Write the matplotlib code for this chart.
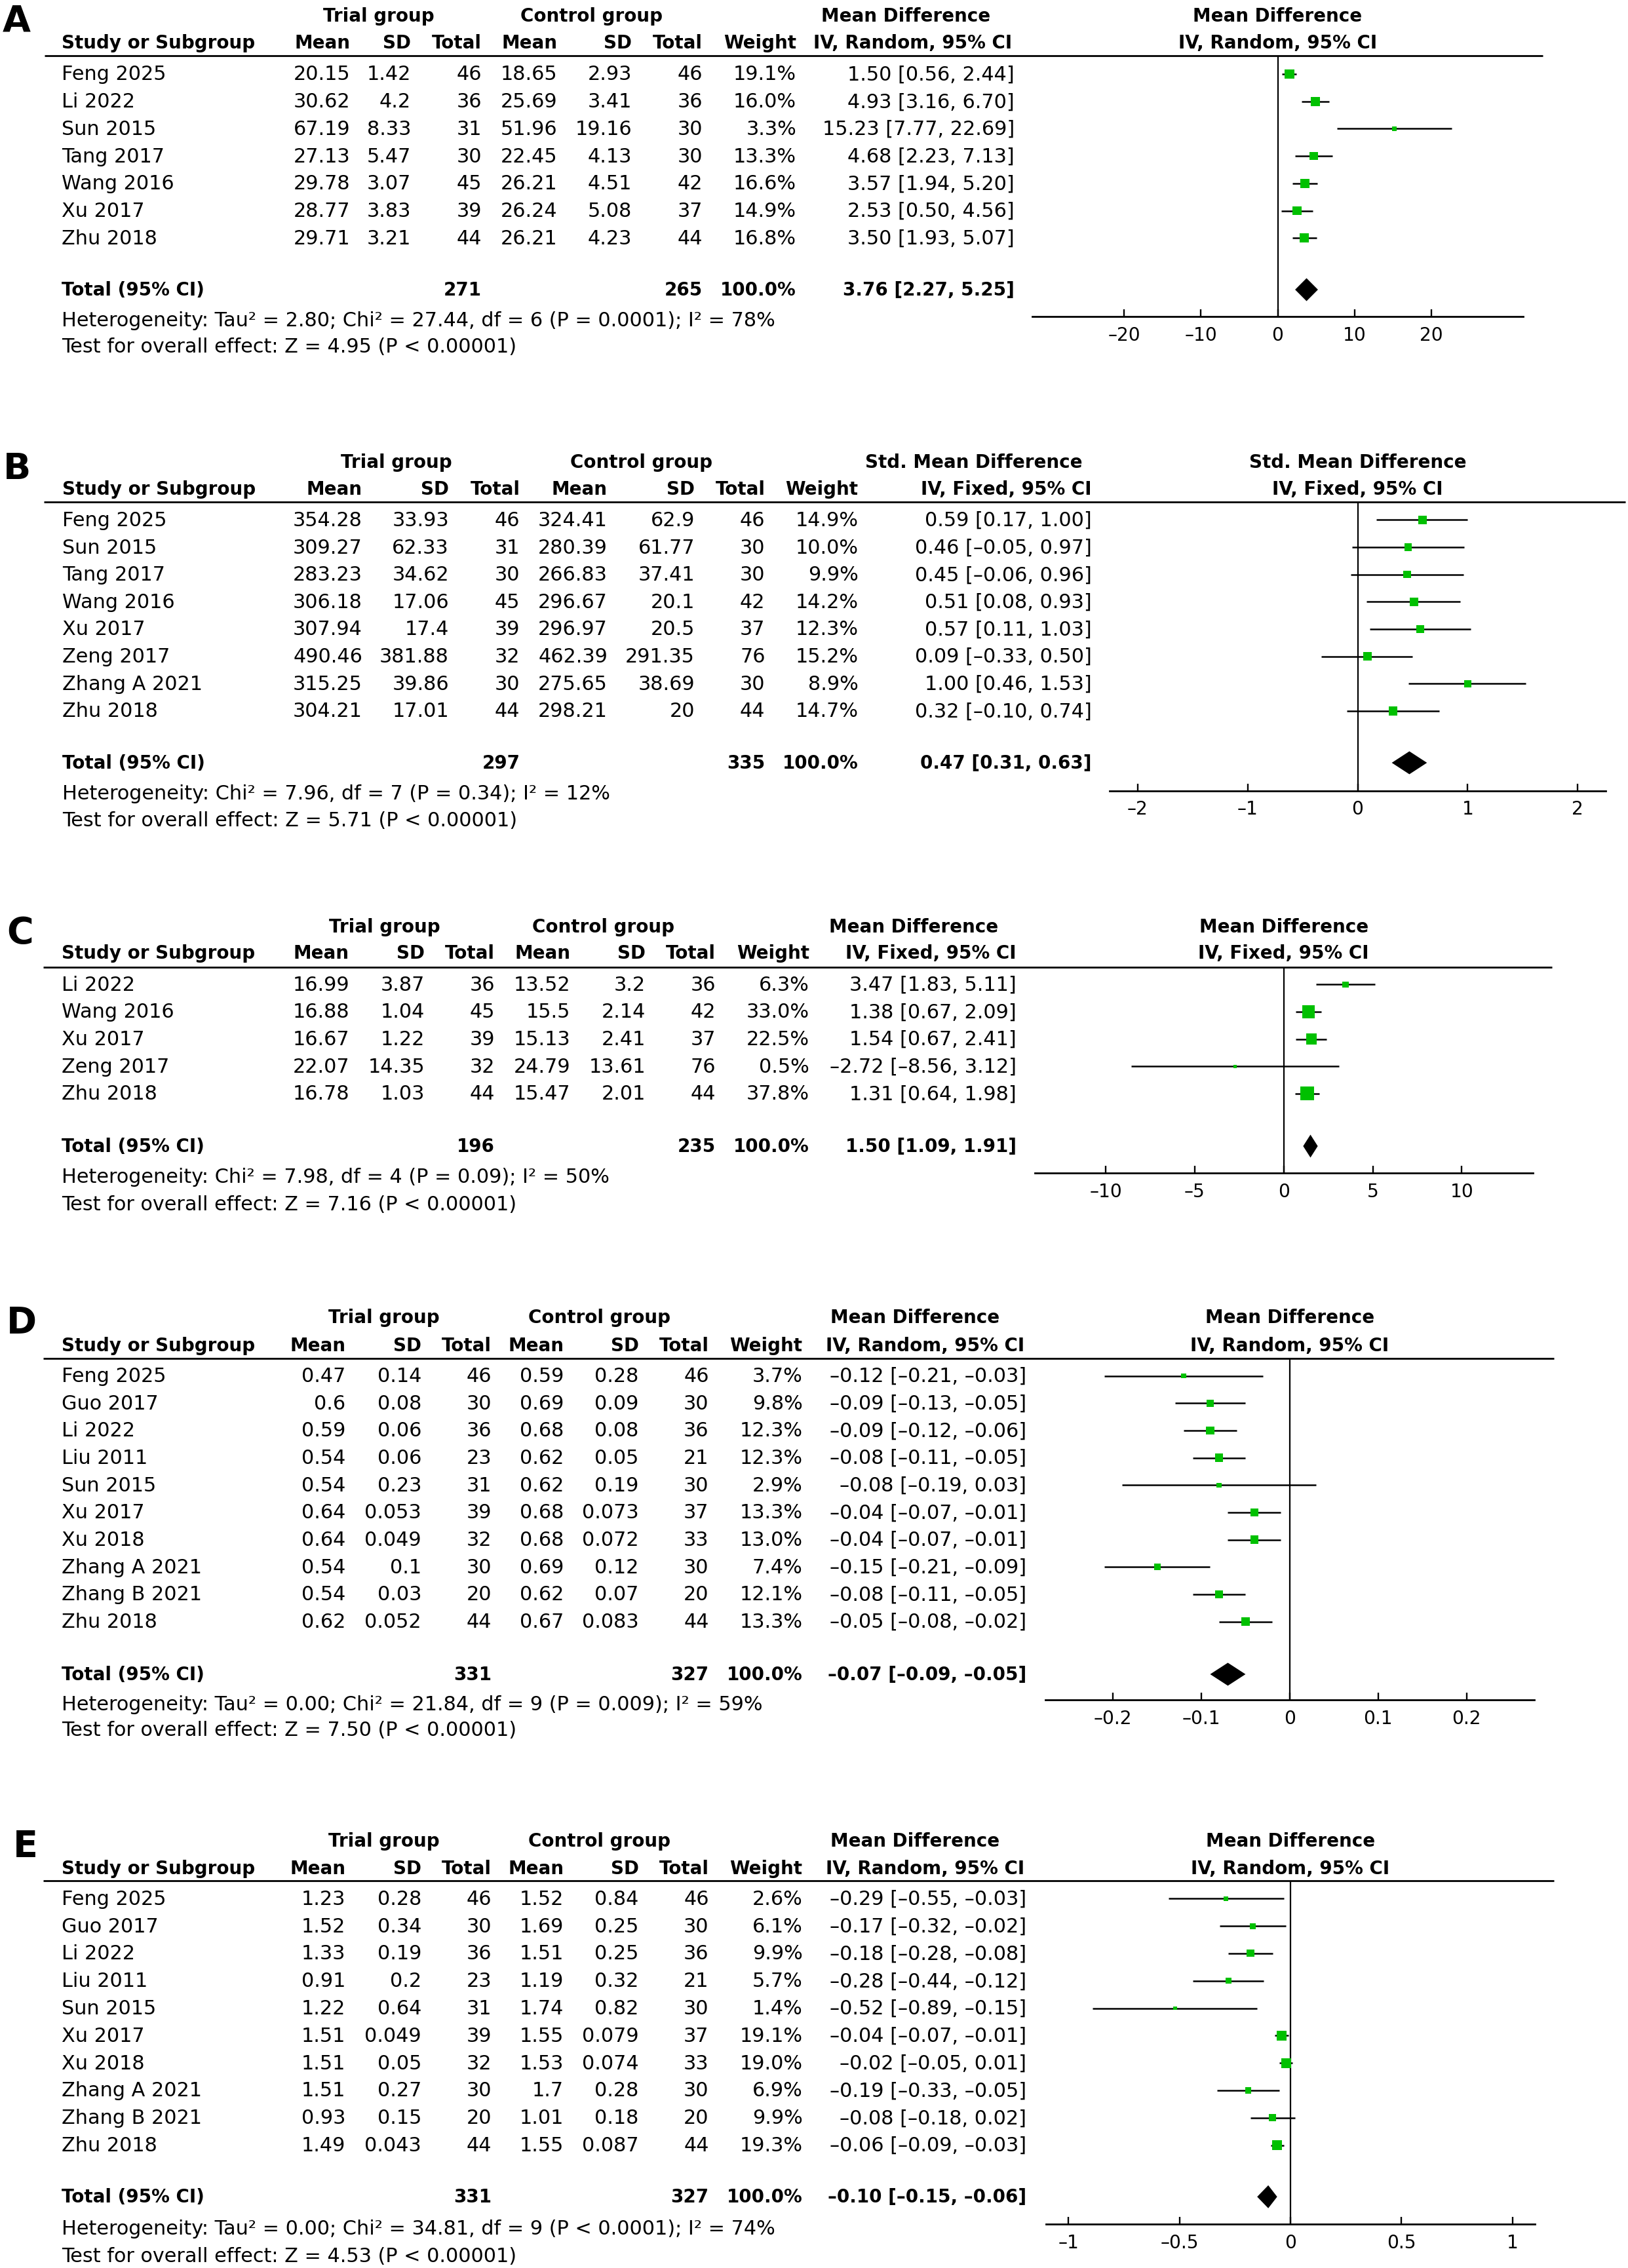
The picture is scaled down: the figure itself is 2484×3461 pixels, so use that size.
import matplotlib
matplotlib.use("Agg")
import matplotlib.pyplot as plt
import matplotlib.transforms as mtransforms
from matplotlib.ticker import FixedLocator, FuncFormatter

# ---------------------------------------------------------------- data
# Panel A
A_studies = ["Feng 2025", "Li 2022", "Sun 2015", "Tang 2017", "Wang 2016", "Xu 2017", "Zhu 2018"]
A_t_mean = [20.15, 30.62, 67.19, 27.13, 29.78, 28.77, 29.71]
A_t_sd = [1.42, 4.2, 8.33, 5.47, 3.07, 3.83, 3.21]
A_t_n = [46, 36, 31, 30, 45, 39, 44]
A_c_mean = [18.65, 25.69, 51.96, 22.45, 26.21, 26.24, 26.21]
A_c_sd = [2.93, 3.41, 19.16, 4.13, 4.51, 5.08, 4.23]
A_c_n = [46, 36, 30, 30, 42, 37, 44]
A_weight = [19.1, 16.0, 3.3, 13.3, 16.6, 14.9, 16.8]
A_est = [1.50, 4.93, 15.23, 4.68, 3.57, 2.53, 3.50]
A_lo = [0.56, 3.16, 7.77, 2.23, 1.94, 0.50, 1.93]
A_hi = [2.44, 6.70, 22.69, 7.13, 5.20, 4.56, 5.07]
A_total = [271, 265, 100.0, 3.76, 2.27, 5.25]
A_het = "Heterogeneity: Tau² = 2.80; Chi² = 27.44, df = 6 (P = 0.0001); I² = 78%"
A_test = "Test for overall effect: Z = 4.95 (P < 0.00001)"
A_titles = ["Mean Difference", "IV, Random, 95% CI"]
A_ticks = [-20, -10, 0, 10, 20]

# Panel B
B_studies = ["Feng 2025", "Sun 2015", "Tang 2017", "Wang 2016", "Xu 2017", "Zeng 2017", "Zhang A 2021", "Zhu 2018"]
B_t_mean = [354.28, 309.27, 283.23, 306.18, 307.94, 490.46, 315.25, 304.21]
B_t_sd = [33.93, 62.33, 34.62, 17.06, 17.4, 381.88, 39.86, 17.01]
B_t_n = [46, 31, 30, 45, 39, 32, 30, 44]
B_c_mean = [324.41, 280.39, 266.83, 296.67, 296.97, 462.39, 275.65, 298.21]
B_c_sd = [62.9, 61.77, 37.41, 20.1, 20.5, 291.35, 38.69, 20]
B_c_n = [46, 30, 30, 42, 37, 76, 30, 44]
B_weight = [14.9, 10.0, 9.9, 14.2, 12.3, 15.2, 8.9, 14.7]
B_est = [0.59, 0.46, 0.45, 0.51, 0.57, 0.09, 1.00, 0.32]
B_lo = [0.17, -0.05, -0.06, 0.08, 0.11, -0.33, 0.46, -0.10]
B_hi = [1.00, 0.97, 0.96, 0.93, 1.03, 0.50, 1.53, 0.74]
B_total = [297, 335, 100.0, 0.47, 0.31, 0.63]
B_het = "Heterogeneity: Chi² = 7.96, df = 7 (P = 0.34); I² = 12%"
B_test = "Test for overall effect: Z = 5.71 (P < 0.00001)"
B_titles = ["Std. Mean Difference", "IV, Fixed, 95% CI"]
B_ticks = [-2, -1, 0, 1, 2]

# Panel C
C_studies = ["Li 2022", "Wang 2016", "Xu 2017", "Zeng 2017", "Zhu 2018"]
C_t_mean = [16.99, 16.88, 16.67, 22.07, 16.78]
C_t_sd = [3.87, 1.04, 1.22, 14.35, 1.03]
C_t_n = [36, 45, 39, 32, 44]
C_c_mean = [13.52, 15.5, 15.13, 24.79, 15.47]
C_c_sd = [3.2, 2.14, 2.41, 13.61, 2.01]
C_c_n = [36, 42, 37, 76, 44]
C_weight = [6.3, 33.0, 22.5, 0.5, 37.8]
C_est = [3.47, 1.38, 1.54, -2.72, 1.31]
C_lo = [1.83, 0.67, 0.67, -8.56, 0.64]
C_hi = [5.11, 2.09, 2.41, 3.12, 1.98]
C_total = [196, 235, 100.0, 1.50, 1.09, 1.91]
C_het = "Heterogeneity: Chi² = 7.98, df = 4 (P = 0.09); I² = 50%"
C_test = "Test for overall effect: Z = 7.16 (P < 0.00001)"
C_titles = ["Mean Difference", "IV, Fixed, 95% CI"]
C_ticks = [-10, -5, 0, 5, 10]

# Panel D
D_studies = ["Feng 2025", "Guo 2017", "Li 2022", "Liu 2011", "Sun 2015", "Xu 2017", "Xu 2018",
             "Zhang A 2021", "Zhang B 2021", "Zhu 2018"]
D_t_mean = [0.47, 0.6, 0.59, 0.54, 0.54, 0.64, 0.64, 0.54, 0.54, 0.62]
D_t_sd = [0.14, 0.08, 0.06, 0.06, 0.23, 0.053, 0.049, 0.1, 0.03, 0.052]
D_t_n = [46, 30, 36, 23, 31, 39, 32, 30, 20, 44]
D_c_mean = [0.59, 0.69, 0.68, 0.62, 0.62, 0.68, 0.68, 0.69, 0.62, 0.67]
D_c_sd = [0.28, 0.09, 0.08, 0.05, 0.19, 0.073, 0.072, 0.12, 0.07, 0.083]
D_c_n = [46, 30, 36, 21, 30, 37, 33, 30, 20, 44]
D_weight = [3.7, 9.8, 12.3, 12.3, 2.9, 13.3, 13.0, 7.4, 12.1, 13.3]
D_est = [-0.12, -0.09, -0.09, -0.08, -0.08, -0.04, -0.04, -0.15, -0.08, -0.05]
D_lo = [-0.21, -0.13, -0.12, -0.11, -0.19, -0.07, -0.07, -0.21, -0.11, -0.08]
D_hi = [-0.03, -0.05, -0.06, -0.05, 0.03, -0.01, -0.01, -0.09, -0.05, -0.02]
D_total = [331, 327, 100.0, -0.07, -0.09, -0.05]
D_het = "Heterogeneity: Tau² = 0.00; Chi² = 21.84, df = 9 (P = 0.009); I² = 59%"
D_test = "Test for overall effect: Z = 7.50 (P < 0.00001)"
D_titles = ["Mean Difference", "IV, Random, 95% CI"]
D_ticks = [-0.2, -0.1, 0, 0.1, 0.2]

# Panel E
E_studies = ["Feng 2025", "Guo 2017", "Li 2022", "Liu 2011", "Sun 2015", "Xu 2017", "Xu 2018",
             "Zhang A 2021", "Zhang B 2021", "Zhu 2018"]
E_t_mean = [1.23, 1.52, 1.33, 0.91, 1.22, 1.51, 1.51, 1.51, 0.93, 1.49]
E_t_sd = [0.28, 0.34, 0.19, 0.2, 0.64, 0.049, 0.05, 0.27, 0.15, 0.043]
E_t_n = [46, 30, 36, 23, 31, 39, 32, 30, 20, 44]
E_c_mean = [1.52, 1.69, 1.51, 1.19, 1.74, 1.55, 1.53, 1.7, 1.01, 1.55]
E_c_sd = [0.84, 0.25, 0.25, 0.32, 0.82, 0.079, 0.074, 0.28, 0.18, 0.087]
E_c_n = [46, 30, 36, 21, 30, 37, 33, 30, 20, 44]
E_weight = [2.6, 6.1, 9.9, 5.7, 1.4, 19.1, 19.0, 6.9, 9.9, 19.3]
E_est = [-0.29, -0.17, -0.18, -0.28, -0.52, -0.04, -0.02, -0.19, -0.08, -0.06]
E_lo = [-0.55, -0.32, -0.28, -0.44, -0.89, -0.07, -0.05, -0.33, -0.18, -0.09]
E_hi = [-0.03, -0.02, -0.08, -0.12, -0.15, -0.01, 0.01, -0.05, 0.02, -0.03]
E_total = [331, 327, 100.0, -0.10, -0.15, -0.06]
E_het = "Heterogeneity: Tau² = 0.00; Chi² = 34.81, df = 9 (P < 0.0001); I² = 74%"
E_test = "Test for overall effect: Z = 4.53 (P < 0.00001)"
E_titles = ["Mean Difference", "IV, Random, 95% CI"]
E_ticks = [-1, -0.5, 0, 0.5, 1]

# ---------------------------------------------------------------- layout (pixels)
W, H = 2484, 3462
FS = 21.8      # regular text
FSB = 20.0     # bold text
FST = 20.2     # tick labels
GREEN = "#00c000"
MK = 5.5       # marker area per weight percent (pt^2)
MK0 = 10.0     # base marker area (pt^2)

LAYOUTS = {
    "A": dict(letter=(4, 32), h1=25, h2=66, hline=86, hx=(68, 2354), row0=114, dy=41.7,
              tot=443, het=489, test=530,
              cols=[534, 627, 735, 850, 964, 1072, 1215, 1548], study=94,
              grp=(578, 902), cih=(1382, 1393),
              fx=(1575, 2324), xlim=32.0, axis=483.7),
    "B": dict(letter=(5, 716), h1=705.5, h2=747, hline=766.8, hx=(67, 2480), row0=794.4, dy=41.65,
              tot=1165, het=1212, test=1253,
              cols=[553, 685, 793.5, 927, 1060, 1167.5, 1309.5, 1666], study=95,
              grp=(605, 978), cih=(1486, 1535),
              fx=(1693, 2450), xlim=2.254, axis=1207.6),
    "C": dict(letter=(10, 1424), h1=1415, h2=1455, hline=1476.7, hx=(66, 2368), row0=1503.3, dy=41.6,
              tot=1750, het=1796.7, test=1838.3,
              cols=[533, 648, 755, 870, 985, 1092, 1235, 1551], study=94,
              grp=(587, 921), cih=(1394, 1420),
              fx=(1578.5, 2339), xlim=14.0, axis=1790.7),
    "D": dict(letter=(10, 2019), h1=2011, h2=2053.7, hline=2073.7, hx=(66, 2371), row0=2100.5, dy=41.67,
              tot=2555.9, het=2601.8, test=2640.7,
              cols=[527.5, 643, 750, 860, 974.5, 1081.6, 1224.5, 1566], study=94,
              grp=(586, 914), cih=(1396, 1412),
              fx=(1594.7, 2341), xlim=0.2767, axis=2595),
    "E": dict(letter=(20, 2818), h1=2810.5, h2=2851.8, hline=2871.4, hx=(66, 2371), row0=2898.3, dy=41.8,
              tot=3353.3, het=3401.2, test=3443.4,
              cols=[527.5, 643, 750, 860, 974.5, 1081.6, 1224.5, 1566], study=94,
              grp=(586, 914), cih=(1396, 1412),
              fx=(1596, 2342), xlim=1.101, axis=3394.7),
}


def fg(v):
    return f"{v:g}".replace("-", "\u2013")


def f2(v):
    return f"{v:.2f}".replace("-", "\u2013")


fig = plt.figure(figsize=(W / 100, H / 100), dpi=100)
fig.patch.set_facecolor("white")
ov = fig.add_axes([0, 0, 1, 1])
ov.set_xlim(0, W)
ov.set_ylim(H, 0)
ov.axis("off")


def txt(x, y, s, ha="right", bold=False, size=None):
    ov.text(x, y, s, ha=ha, va="center", fontsize=size or (FSB if bold else FS),
            fontweight="bold" if bold else "normal", color="black")


def panel(letter, studies, tm, tsd, tn, cm, csd, cn, wt, est, lo, hi, total, het, test, titles, ticks):
    L = LAYOUTS[letter]
    lx, ly = L["letter"]
    ov.text(lx, ly, letter, ha="left", va="center", fontsize=40, fontweight="bold")
    c = L["cols"]
    # header rows
    txt(L["grp"][0], L["h1"], "Trial group", ha="center", bold=True)
    txt(L["grp"][1], L["h1"], "Control group", ha="center", bold=True)
    txt(L["cih"][0], L["h1"], titles[0], ha="center", bold=True)
    txt(L["study"], L["h2"], "Study or Subgroup", ha="left", bold=True)
    for x, s in zip(c[:7], ["Mean", "SD", "Total", "Mean", "SD", "Total", "Weight"]):
        txt(x, L["h2"], s, bold=True)
    txt(L["cih"][1], L["h2"], titles[1], ha="center", bold=True)
    ov.plot(L["hx"], [L["hline"], L["hline"]], color="black", lw=2.0, solid_capstyle="butt")
    # study rows
    ys = [L["row0"] + i * L["dy"] for i in range(len(studies))]
    for i, y in enumerate(ys):
        txt(L["study"], y, studies[i], ha="left")
        vals = [fg(tm[i]), fg(tsd[i]), str(tn[i]), fg(cm[i]), fg(csd[i]), str(cn[i]),
                f"{wt[i]:.1f}%", f"{f2(est[i])} [{f2(lo[i])}, {f2(hi[i])}]"]
        for x, s in zip(c, vals):
            txt(x, y, s)
    # total row
    ty = L["tot"]
    txt(L["study"], ty, "Total (95% CI)", ha="left", bold=True)
    txt(c[2], ty, str(total[0]), bold=True)
    txt(c[5], ty, str(total[1]), bold=True)
    txt(c[6], ty, f"{total[2]:.1f}%", bold=True)
    txt(c[7], ty, f"{f2(total[3])} [{f2(total[4])}, {f2(total[5])}]", bold=True)
    txt(L["study"], L["het"], het, ha="left")
    txt(L["study"], L["test"], test, ha="left")

    # forest plot
    x0, x1 = L["fx"]
    top, bot = L["hline"], L["axis"]
    ax = fig.add_axes([x0 / W, (H - bot) / H, (x1 - x0) / W, (bot - top) / H])
    ax.patch.set_alpha(0)
    ax.set_xlim(-L["xlim"], L["xlim"])
    ax.set_ylim(bot, top)
    for sp in ["top", "left", "right"]:
        ax.spines[sp].set_visible(False)
    ax.spines["bottom"].set_linewidth(2.0)
    ax.set_yticks([])
    ax.xaxis.set_major_locator(FixedLocator(ticks))
    ax.xaxis.set_major_formatter(FuncFormatter(lambda v, p: fg(round(v, 6))))
    ax.tick_params(axis="x", direction="in", length=8, width=1.7, pad=10, labelsize=FST)
    ax.axvline(0, color="black", lw=1.6, zorder=1)
    ax.hlines(ys, lo, hi, color="black", lw=1.8, zorder=2)
    ax.scatter(est, ys, s=[MK0 + MK * w for w in wt], marker="s", color=GREEN, linewidths=0, zorder=3)
    h = 17.5
    ax.fill([total[4], total[3], total[5], total[3]], [ty, ty - h, ty, ty + h],
            color="black", lw=0, zorder=3)
    tr = mtransforms.blended_transform_factory(ax.transAxes, ax.transData)
    ax.text(0.5, L["h1"], titles[0], transform=tr, ha="center", va="center",
            fontsize=FSB, fontweight="bold", clip_on=False)
    ax.text(0.5, L["h2"], titles[1], transform=tr, ha="center", va="center",
            fontsize=FSB, fontweight="bold", clip_on=False)


panel("A", A_studies, A_t_mean, A_t_sd, A_t_n, A_c_mean, A_c_sd, A_c_n, A_weight, A_est, A_lo, A_hi,
      A_total, A_het, A_test, A_titles, A_ticks)
panel("B", B_studies, B_t_mean, B_t_sd, B_t_n, B_c_mean, B_c_sd, B_c_n, B_weight, B_est, B_lo, B_hi,
      B_total, B_het, B_test, B_titles, B_ticks)
panel("C", C_studies, C_t_mean, C_t_sd, C_t_n, C_c_mean, C_c_sd, C_c_n, C_weight, C_est, C_lo, C_hi,
      C_total, C_het, C_test, C_titles, C_ticks)
panel("D", D_studies, D_t_mean, D_t_sd, D_t_n, D_c_mean, D_c_sd, D_c_n, D_weight, D_est, D_lo, D_hi,
      D_total, D_het, D_test, D_titles, D_ticks)
panel("E", E_studies, E_t_mean, E_t_sd, E_t_n, E_c_mean, E_c_sd, E_c_n, E_weight, E_est, E_lo, E_hi,
      E_total, E_het, E_test, E_titles, E_ticks)

fig.savefig("out.png", dpi=100, facecolor="white")
